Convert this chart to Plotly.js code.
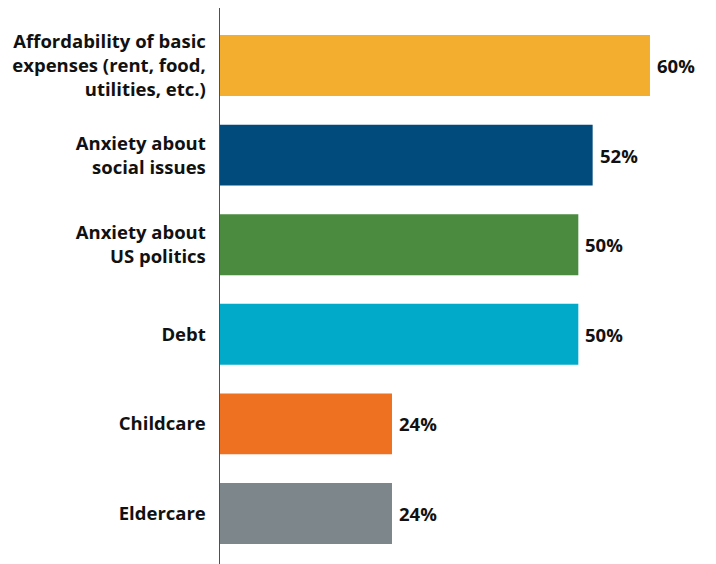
<!DOCTYPE html>
<html>
<head>
<meta charset="utf-8">
<script src="https://cdn.plot.ly/plotly-3.0.1.min.js"></script>
<style>html,body{margin:0;padding:0;background:#fff;}#chart{width:716px;height:564px;}</style>
</head>
<body>
<div id="chart"></div>
<script>
var categories = [
  "Affordability of basic<br>expenses (rent, food,<br>utilities, etc.)",
  "Anxiety about<br>social issues",
  "Anxiety about<br>US politics",
  "Debt",
  "Childcare",
  "Eldercare"
];
var values = [60, 52, 50, 50, 24, 24];
var labels = ["60%", "52%", "50%", "50%", "24%", "24%"];
var colors = ["#F4AE2F", "#004A7C", "#4A8B3F", "#00AAC8", "#EE7122", "#7D868B"];

var trace = {
  type: "bar",
  orientation: "h",
  y: categories,
  x: values,
  marker: {color: colors, line: {width: 0}},
  hoverinfo: "none"
};

var annotations = values.map(function (v, i) {
  return {
    x: v,
    y: categories[i],
    xref: "x",
    yref: "y",
    text: labels[i],
    showarrow: false,
    xanchor: "left",
    yanchor: "middle",
    xshift: 5,
    yshift: 0,
    font: {family: "Open Sans, sans-serif", size: 18.5, color: "#111111", weight: 700}
  };
});

var layout = {
  width: 716,
  height: 564,
  margin: {l: 220, r: 16, t: 8, b: 0},
  paper_bgcolor: "#ffffff",
  plot_bgcolor: "#ffffff",
  bargap: 0.32,
  showlegend: false,
  font: {family: "Open Sans, sans-serif", color: "#111111"},
  annotations: annotations,
  xaxis: {
    range: [0, 66.98],
    showgrid: false,
    zeroline: false,
    showticklabels: false,
    showline: false,
    ticks: ""
  },
  yaxis: {
    type: "category",
    range: [5.564, -0.642],
    showgrid: false,
    zeroline: false,
    showline: true,
    linecolor: "#4a5258",
    linewidth: 1.5,
    ticks: "",
    ticklabelstandoff: 9,
    tickfont: {family: "Open Sans, sans-serif", size: 18.5, color: "#111111", weight: 700}
  }
};

Plotly.newPlot("chart", [trace], layout, {displayModeBar: false, staticPlot: true});
</script>
</body>
</html>
